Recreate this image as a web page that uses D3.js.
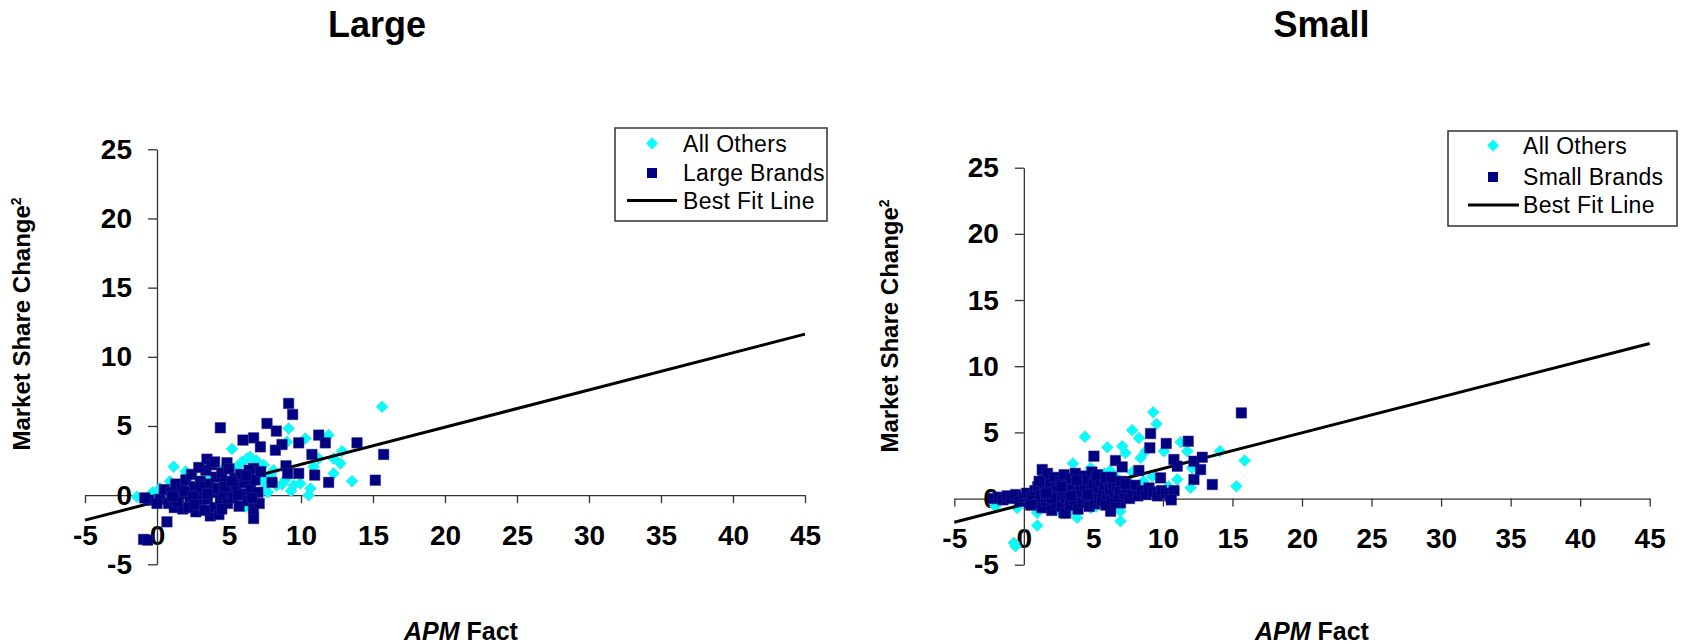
<!DOCTYPE html>
<html>
<head>
<meta charset="utf-8">
<script src="https://cdn.jsdelivr.net/npm/d3@7"></script>
<style>
    body { margin: 0; background: #fff; }
    text { font-family: "Liberation Sans", Arial, sans-serif; }
</style>
</head>
<body>
<svg id="chart" width="1682" height="644"></svg>
<script>
// tick values shared by both panels
var xTicks = [-5, 0, 5, 10, 15, 20, 25, 30, 35, 40, 45];
var yTicks = [-5, 0, 5, 10, 15, 20, 25];

// Large panel: [APM Fact, Market Share Change]
var largeOthers = [
    [15.63, 6.39], [9.14, 4.82], [9.03, 3.86], [10.30, 4.10], [11.92, 4.34], [5.21, 3.33],
    [6.48, 2.77], [12.85, 3.18], [12.27, 2.65], [12.73, 2.29], [12.27, 1.57], [13.54, 1.01],
    [11.23, 2.65], [10.88, 2.05], [10.53, 0.0], [10.65, 0.48], [9.49, 0.72], [9.95, 0.84],
    [8.68, 0.77], [7.41, 0.96], [1.16, 2.05], [-1.39, -0.12], [0.12, 0.12], [6.13, -0.84],
    [2.89, -1.20], [5.56, 2.05], [7.41, 2.17], [6.25, 2.65], [6.9, 2.5], [0.2, 0.5],
    [0.9, 1.0], [1.3, 0.6], [2.0, 1.7], [2.2, 0.9], [2.3, -0.3], [3.0, -0.96], [3.2, -0.5],
    [4.2, 0.5], [4.4, 1.4], [4.6, 1.9], [5.3, 1.7], [6.0, -0.2], [7.2, 1.2], [7.4, 0.4],
    [7.9, 1.4], [8.3, 0.7], [1.7, -0.6], [-0.3, 0.2], [0.6, -0.2], [8.9, 1.1], [9.3, 0.3],
    [7.7, 0.2], [8.1, 1.8], [6.8, 0.0], [5.9, 2.4], [3.6, 1.2]
];
var largeBrands = [
    [9.14, 6.63], [9.42, 5.83], [4.40, 4.87], [7.64, 5.18], [8.29, 4.63], [6.71, 4.14],
    [5.97, 3.98], [7.18, 3.49], [8.68, 3.66], [8.22, 3.25], [9.84, 3.78], [11.23, 4.34],
    [11.69, 3.78], [13.89, 3.78], [15.74, 2.94], [15.16, 1.08], [10.76, 2.94], [10.95, 1.45],
    [9.84, 1.57], [8.96, 2.12], [9.07, 1.57], [11.92, 0.92], [7.99, 0.92], [6.71, 1.93],
    [4.86, 2.34], [3.47, 2.60], [6.71, -1.69], [0.69, -1.93], [-0.93, -3.2], [-0.65, -3.25],
    [-0.58, -0.36], [-0.85, -0.2],
    [0.2, -0.3], [0.5, 0.4], [0.8, -0.6], [1.0, 0.2], [1.2, -0.9], [1.3, 0.8], [1.5, -0.2],
    [1.7, 0.5], [1.8, -1.0], [2.0, 1.1], [2.1, 0.1], [2.3, -0.5], [2.4, 1.5], [2.6, 0.6],
    [2.7, -1.2], [2.8, 0.0], [3.0, 1.0], [3.1, -0.7], [3.2, 0.4], [3.4, 1.8], [3.5, -0.3],
    [3.6, 0.8], [3.7, -1.5], [3.8, 2.2], [3.9, 0.2], [4.0, -0.9], [4.1, 1.3], [4.2, 0.5],
    [4.4, -0.4], [4.5, 1.6], [4.6, 0.0], [4.8, 0.9], [4.9, -0.6], [5.0, 1.9], [5.1, 0.3],
    [5.3, -0.2], [5.4, 1.2], [5.5, 0.6], [5.7, -0.8], [5.8, 1.5], [6.0, 0.1], [6.1, 0.9],
    [6.3, -0.4], [6.4, 1.8], [6.5, 0.4], [6.7, -1.0], [6.8, 1.1], [7.0, 0.2], [7.1, -0.6],
    [7.2, 1.7], [1.9, 0.3], [2.5, -0.1], [3.3, -1.1], [4.3, -1.4], [2.2, -0.9], [3.0, 0.6],
    [4.7, 0.6], [5.6, 0.0], [6.2, 1.4], [0.0, -0.6], [1.4, -0.5], [2.9, 2.0], [4.0, 2.4],
    [5.2, 1.0], [1.1, -0.1], [3.5, 0.1], [2.6, -0.7], [6.6, -0.2], [4.5, -1.0]
];
var fitLarge = [[-5, -1.81], [45, 11.64]];

// Small panel
var smallOthers = [
    [9.30, 6.52], [9.54, 5.64], [4.39, 4.66], [7.79, 5.16], [8.27, 4.58], [6.00, 3.88],
    [7.07, 3.95], [7.31, 3.45], [8.39, 3.07], [8.75, 3.58], [10.07, 3.58], [11.27, 4.26],
    [11.75, 3.58], [14.10, 3.58], [15.88, 2.87], [15.28, 0.93], [3.53, 2.64], [11.03, 1.44],
    [11.99, 0.81], [9.23, 1.69], [6.95, -1.71], [6.95, -0.96], [3.84, -1.46], [0.96, -2.04],
    [-0.72, -3.35], [-0.6, -3.6], [-2.04, -0.58], [-0.48, -0.71], [0.96, -1.08], [2.4, -0.83],
    [4.8, -0.7], [2.9, 1.7], [4.8, 2.3], [5.8, 1.9], [5.2, -0.6], [6.6, 1.6], [7.6, 1.2],
    [8.6, 1.3], [10.4, 0.9], [3.4, -0.9], [1.6, -0.4], [6.2, 2.1], [7.8, 2.0], [12.1, 2.3]
];
var smallBrands = [
    [15.64, 6.47], [9.11, 4.91], [9.06, 3.83], [10.24, 4.16], [11.82, 4.33], [5.04, 3.20],
    [6.59, 2.87], [7.07, 2.39], [10.79, 2.95], [11.03, 2.44], [12.23, 2.82], [12.83, 3.12],
    [12.71, 2.19], [12.23, 1.44], [13.55, 1.06], [9.83, 1.56], [8.27, 2.12], [10.55, 0.18],
    [1.32, 2.19], [6.24, -0.96], [6.95, -0.33], [2.88, -1.08],
    [-2.2, 0.0], [-1.8, 0.1], [-1.5, -0.1], [-1.2, 0.2], [-0.9, 0.0], [-0.6, 0.3], [-0.3, -0.2],
    [0.0, 0.1], [0.2, 0.4], [0.4, -0.3], [0.6, 0.2], [0.8, 0.6], [1.0, -0.4], [1.0, 0.9],
    [1.2, 0.3], [1.3, -0.7], [1.4, 1.4], [1.5, 0.7], [1.6, -0.2], [1.7, 1.9], [1.8, 0.1],
    [1.9, 1.1], [2.0, -0.9], [2.1, 0.5], [2.2, 1.6], [2.3, -0.4], [2.4, 0.9], [2.5, 0.2],
    [2.6, 1.3], [2.7, -0.6], [2.8, 0.6], [2.9, 1.8], [3.0, 0.0], [3.0, -1.1], [3.1, 1.0],
    [3.2, 0.4], [3.3, -0.5], [3.4, 1.5], [3.5, 0.7], [3.6, -0.1], [3.7, 1.9], [3.8, 0.3],
    [3.9, -0.8], [4.0, 1.2], [4.1, 0.5], [4.2, -0.3], [4.3, 1.7], [4.4, 0.9], [4.5, 0.0],
    [4.6, 1.4], [4.7, -0.6], [4.8, 0.6], [4.9, 2.0], [5.0, 0.2], [5.0, 1.1], [5.1, -0.4],
    [5.2, 1.6], [5.3, 0.8], [5.4, 0.0], [5.5, 1.3], [5.6, -0.2], [5.7, 0.5], [5.8, 1.0],
    [5.9, -0.5], [6.0, 0.3], [6.1, 1.4], [6.2, 0.7], [6.3, -0.1], [6.4, 1.1], [6.5, 0.4],
    [6.6, -0.3], [6.7, 0.9], [6.8, 0.1], [6.9, 0.6], [7.0, 1.3], [7.2, 0.3], [7.4, 0.8],
    [7.6, 0.0], [7.8, 0.5], [8.0, 1.0], [8.2, 0.2], [8.5, 0.6], [8.8, 0.3], [9.0, 0.8],
    [9.3, 0.5], [9.6, 0.2], [9.9, 0.6], [10.2, 0.4], [10.5, 0.2], [10.8, 0.6], [10.6, -0.1],
    [1.1, 1.3], [2.0, 0.0], [2.7, 0.9], [3.4, 0.2], [3.8, 1.4], [4.6, 0.3], [5.3, 1.8],
    [5.9, 1.6], [6.3, 1.6], [7.3, 1.1], [1.6, 0.4], [0.5, -0.5]
];
var fitSmall = [[-5, -1.79], [45, 11.72]];

var panels = [
    {
        title: "Large", brandLabel: "Large Brands",
        others: largeOthers, brands: largeBrands, fit: fitLarge,
        xRange: [85, 805], yRange: [564.3, 149.3],
        titleX: 377, xLabelX: 461, yLabelX: 30, yLabelY: 324,
        legend: { x0: 615, y0: 128, x1: 827, y1: 221, rows: [151.5, 181, 208.5], markX: 652, lineX: [627, 677], textX: 683 }
    },
    {
        title: "Small", brandLabel: "Small Brands",
        others: smallOthers, brands: smallBrands, fit: fitSmall,
        xRange: [954.3, 1649.7], yRange: [564.7, 167.7],
        titleX: 1321.6, xLabelX: 1312, yLabelX: 898, yLabelY: 326,
        legend: { x0: 1448, y0: 131, x1: 1677, y1: 226, rows: [153.5, 185, 213], markX: 1493, lineX: [1468, 1519], textX: 1523 }
    }
];

var svg = d3.select("#chart");

var diamond = d3.symbol(d3.symbolSquare, 72);
var square = d3.symbol(d3.symbolSquare, 110);

panels.forEach(function (p) {
    var x = d3.scaleLinear().domain([-5, 45]).range(p.xRange);
    var y = d3.scaleLinear().domain([-5, 25]).range(p.yRange);
    var g = svg.append("g");

    // title
    g.append("text")
        .attr("x", p.titleX)
        .attr("y", 37)
        .attr("text-anchor", "middle")
        .style("font-size", "36px")
        .style("font-weight", "bold")
        .text(p.title);

    // axes cross at zero, plain hyphen for negatives
    var xAxis = g.append("g")
        .attr("transform", "translate(0," + y(0) + ")")
        .call(d3.axisBottom(x).tickValues(xTicks).tickFormat(d => String(d))
            .tickSize(8).tickSizeOuter(0).tickPadding(22));
    var yAxis = g.append("g")
        .attr("transform", "translate(" + x(0) + ",0)")
        .call(d3.axisLeft(y).tickValues(yTicks).tickFormat(d => String(d))
            .tickSize(9).tickSizeOuter(0).tickPadding(16));

    [xAxis, yAxis].forEach(function (a) {
        a.selectAll("path, line").attr("stroke", "#333").attr("stroke-width", 1.3);
        a.selectAll("text")
            .attr("fill", "#000")
            .style("font-size", "28px")
            .style("font-weight", "bold")
            .style("font-family", "'Liberation Sans', Arial, sans-serif");
    });

    // All Others (cyan diamonds), under the fit line
    g.append("g").selectAll("path")
        .data(p.others)
        .enter().append("path")
        .attr("d", diamond)
        .attr("transform", d => "translate(" + x(d[0]) + "," + y(d[1]) + ") rotate(45)")
        .attr("fill", "#00FFFF")
        .attr("stroke", "#7cc8c8")
        .attr("stroke-width", 0.6);

    // best fit line
    g.append("path")
        .datum(p.fit)
        .attr("d", d3.line().x(d => x(d[0])).y(d => y(d[1])))
        .attr("fill", "none")
        .attr("stroke", "#000")
        .attr("stroke-width", 3);

    // brands (navy squares)
    g.append("g").selectAll("path")
        .data(p.brands)
        .enter().append("path")
        .attr("d", square)
        .attr("transform", d => "translate(" + x(d[0]) + "," + y(d[1]) + ")")
        .attr("fill", "#000080")
        .attr("stroke", "#2a2a90")
        .attr("stroke-width", 0.5);

    // axis titles
    var yl = g.append("text")
        .attr("transform", "translate(" + p.yLabelX + "," + p.yLabelY + ") rotate(-90)")
        .attr("text-anchor", "middle")
        .style("font-size", "24px")
        .style("font-weight", "bold");
    yl.append("tspan").text("Market Share Change");
    yl.append("tspan").attr("dy", "-9").style("font-size", "14px").text("2");

    var xl = g.append("text")
        .attr("x", p.xLabelX)
        .attr("y", 640)
        .attr("text-anchor", "middle")
        .style("font-size", "25px")
        .style("font-weight", "bold");
    xl.append("tspan").style("font-style", "italic").text("APM");
    xl.append("tspan").text(" Fact");

    // legend
    var L = p.legend;
    var lg = g.append("g");
    lg.append("rect")
        .attr("x", L.x0).attr("y", L.y0)
        .attr("width", L.x1 - L.x0).attr("height", L.y1 - L.y0)
        .attr("fill", "#fff")
        .attr("stroke", "#333")
        .attr("stroke-width", 1.5);
    lg.append("path")
        .attr("d", d3.symbol(d3.symbolSquare, 72)())
        .attr("transform", "translate(" + L.markX + "," + (L.rows[0] - 8) + ") rotate(45)")
        .attr("fill", "#00FFFF");
    lg.append("path")
        .attr("d", d3.symbol(d3.symbolSquare, 100)())
        .attr("transform", "translate(" + L.markX + "," + (L.rows[1] - 8) + ")")
        .attr("fill", "#000080");
    lg.append("line")
        .attr("x1", L.lineX[0]).attr("x2", L.lineX[1])
        .attr("y1", L.rows[2] - 8).attr("y2", L.rows[2] - 8)
        .attr("stroke", "#000")
        .attr("stroke-width", 3);
    ["All Others", p.brandLabel, "Best Fit Line"].forEach(function (t, i) {
        lg.append("text")
            .attr("x", L.textX)
            .attr("y", L.rows[i])
            .style("font-size", "23px")
            .style("letter-spacing", "0.3px")
            .text(t);
    });
});
</script>
</body>
</html>
